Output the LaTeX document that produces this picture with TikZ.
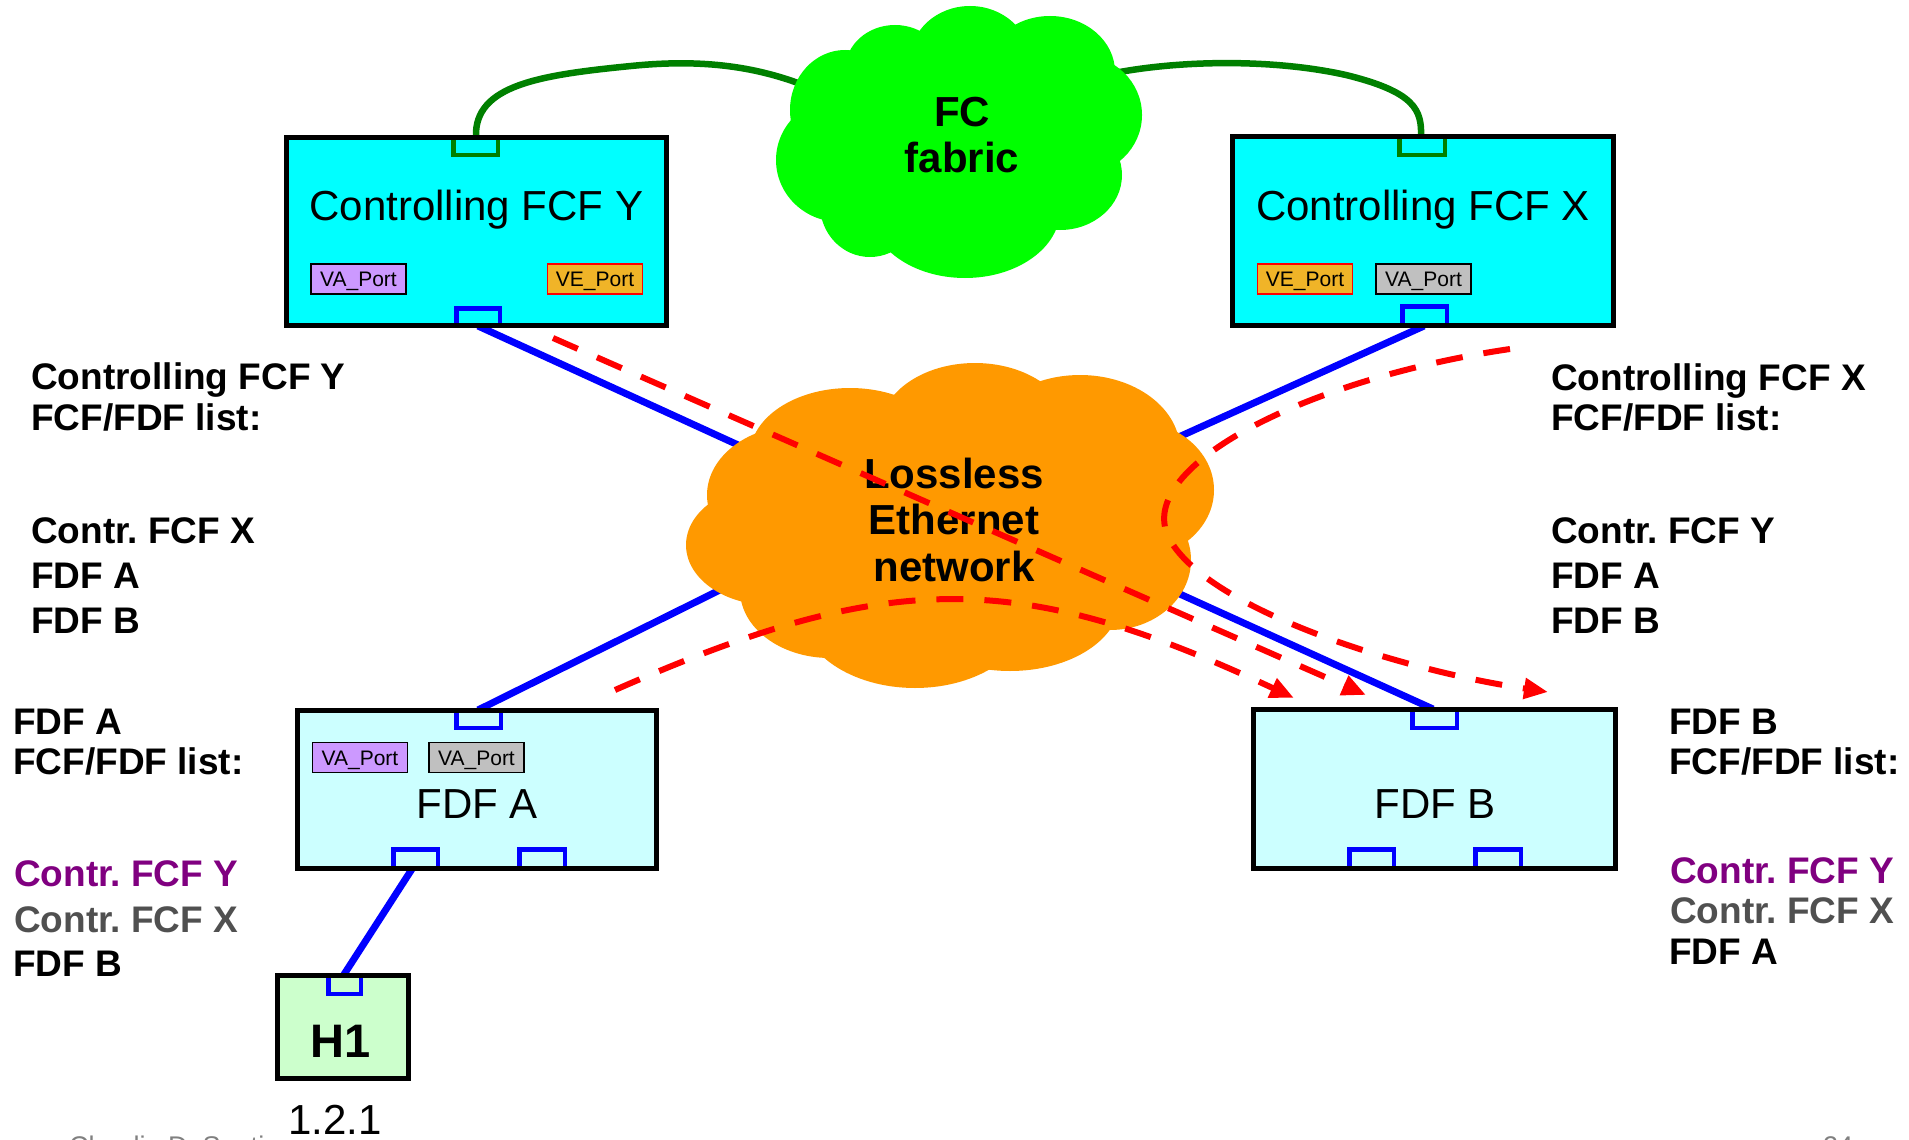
\documentclass[tikz,border=0pt]{standalone}
\usepackage{fontspec}
\setmainfont{Liberation Sans}
\usetikzlibrary{arrows.meta}
\frenchspacing
\definecolor{cyanbox}{HTML}{00FFFF}
\definecolor{fdfbox}{HTML}{CCFFFF}
\definecolor{hostbox}{HTML}{CCFFCC}
\definecolor{fcgreen}{HTML}{00FF00}
\definecolor{lanorange}{HTML}{FF9900}
\definecolor{linkgreen}{HTML}{008000}
\definecolor{vapurple}{HTML}{CC99FF}
\definecolor{vagray}{HTML}{C0C0C0}
\definecolor{veorange}{HTML}{F0B428}
\definecolor{txtpurple}{HTML}{800080}
\definecolor{txtgray}{HTML}{505050}
\definecolor{footgray}{HTML}{808080}
\begin{document}
\frenchspacing
\begin{tikzpicture}[x=1pt,y=-1pt,
  box/.style={draw=black, line width=5pt, rectangle, inner sep=0pt},
  boxtext/.style={anchor=base, inner sep=0pt, font=\fontsize{42}{50}\selectfont},
  cloudtext/.style={anchor=base, inner sep=0pt, font=\fontsize{42}{50}\selectfont\bfseries},
  porttag/.style={line width=1.8pt, minimum width=95pt, minimum height=30pt, inner sep=0pt,
    text height=15pt, text depth=0pt, font=\fontsize{21}{25}\selectfont},
  vatag/.style={porttag, draw=black, fill=vapurple},
  vgtag/.style={porttag, draw=black, fill=vagray},
  vetag/.style={porttag, draw=red, fill=veorange},
  bport/.style={draw=blue, line width=4.5pt, line join=miter},
  gport/.style={draw=linkgreen, line width=4.5pt, line join=miter},
  blink/.style={draw=blue, line width=7pt},
  glink/.style={draw=linkgreen, line width=6.5pt},
  flow/.style={draw=red, line width=6pt, dash pattern=on 27pt off 21pt,
    -{Triangle[length=24pt,width=20pt]}},
  sidelbl/.style={anchor=base west, inner sep=0pt, font=\fontsize{37}{44}\selectfont\bfseries},
  foot/.style={anchor=north west, inner sep=0pt, text=footgray, font=\fontsize{27}{32}\selectfont}
]
\useasboundingbox (0,0) rectangle (1909,1140);
\clip (0,0) rectangle (1909,1140);

% ---------- coordinates ----------
\coordinate (Yb) at (478,326);
\coordinate (Xb) at (1424,326);
\coordinate (Ab) at (478,710);
\coordinate (Bb) at (1433,709);
\coordinate (lanYin) at (760,455);
\coordinate (lanXin) at (1150,450);
\coordinate (lanAin) at (740,580);
\coordinate (lanBin) at (1160,585);
\coordinate (Yg) at (476,137);
\coordinate (Xg) at (1421,137);
\coordinate (fcL) at (820,92);
\coordinate (fcR) at (1100,76);
\coordinate (Adown) at (412,869);
\coordinate (Hup) at (343,976);

% ---------- blue links (under clouds) ----------
\draw[blink] (Yb) -- (lanYin);
\draw[blink] (Xb) -- (lanXin);
\draw[blink] (Ab) -- (lanAin);
\draw[blink] (Bb) -- (lanBin);
\draw[blink] (Adown) -- (Hup);

% ---------- green links ----------
\draw[glink] (Yg) .. controls (474,85) and (540,75) .. (631,66)
  .. controls (700,59) and (760,65) .. (fcL);
\draw[glink] (fcR) .. controls (1170,60) and (1270,58) .. (1346,75)
  .. controls (1415,92) and (1422,110) .. (Xg);

% ---------- FC fabric cloud ----------
\foreach \cx/\cy/\rx/\ry in {895/70/50/45, 970/60/60/54, 1050/72/65/56, 1080/115/62/60,
  1060/175/62/55, 965/210/95/68, 870/205/50/52, 840/160/64/62, 845/110/55/60, 960/145/130/100}
  \fill[fcgreen] (\cx,\cy) ellipse [x radius=\rx pt, y radius=\ry pt];
\coordinate (fabric) at (960,145);
\node[cloudtext] (fctxt1) at (962,126) {FC};
\node[cloudtext] (fctxt2) at (962,172) {fabric};

% ---------- Lossless Ethernet cloud ----------
\foreach \cx/\cy/\rx/\ry in {800/495/93/70, 850/455/100/67, 975/430/95/67, 1080/450/100/75,
  1130/490/84/70, 1110/560/81/70, 1010/600/110/71, 915/610/115/78, 830/590/90/68,
  770/545/84/60, 950/520/200/110}
  \fill[lanorange] (\cx,\cy) ellipse [x radius=\rx pt, y radius=\ry pt];
\coordinate (lan) at (950,520);
\node[cloudtext] (lantxt1) at (954,488) {Lossless};
\node[cloudtext] (lantxt2) at (954,534) {Ethernet};
\node[cloudtext] (lantxt3) at (954,581) {network};

% ---------- boxes ----------
\node[box, fill=cyanbox, minimum width=380pt, minimum height=188pt] (fcfY) at (476.5,231.5) {};
\node[boxtext] (fcfYt) at (476.5,220) {Controlling FCF Y};
\node[vatag] (fcfYva) at (358.5,279) {VA\_Port};
\node[vetag] (fcfYve) at (595,279) {VE\_Port};

\node[box, fill=cyanbox, minimum width=381pt, minimum height=189pt] (fcfX) at (1423,231) {};
\node[boxtext] (fcfXt) at (1423,220) {Controlling FCF X};
\node[vetag] (fcfXve) at (1305,279) {VE\_Port};
\node[vgtag] (fcfXva) at (1423.5,279) {VA\_Port};

\node[box, fill=fdfbox, minimum width=359pt, minimum height=158pt] (fdfA) at (477,789.5) {};
\node[boxtext] (fdfAt) at (477,818) {FDF A};
\node[vatag] (fdfAva1) at (360,757.5) {VA\_Port};
\node[vgtag] (fdfAva2) at (476.5,757.5) {VA\_Port};

\node[box, fill=fdfbox, minimum width=362pt, minimum height=159pt] (fdfB) at (1434.5,789) {};
\node[boxtext] (fdfBt) at (1435,818) {FDF B};

\node[box, fill=hostbox, minimum width=131pt, minimum height=103pt] (H1) at (343,1027) {};
\node[anchor=base, inner sep=0pt, font=\fontsize{47}{56}\selectfont\bfseries] (H1t) at (341,1057) {H1};
\node[boxtext] (H1addr) at (335,1134) {1.2.1};

% ---------- ports ----------
\draw[gport] (453.25,140) -- (453.25,154.75) -- (497.75,154.75) -- (497.75,140);
\draw[gport] (1399.25,139) -- (1399.25,154.75) -- (1444.75,154.75) -- (1444.75,139);
\draw[bport] (456.25,323) -- (456.25,308.25) -- (499.75,308.25) -- (499.75,323);
\draw[bport] (1402.25,323) -- (1402.25,306.25) -- (1446.75,306.25) -- (1446.75,323);
\draw[bport] (456.25,713) -- (456.25,727.75) -- (500.75,727.75) -- (500.75,713);
\draw[bport] (393.25,866) -- (393.25,849.25) -- (437.75,849.25) -- (437.75,866);
\draw[bport] (519.25,866) -- (519.25,849.25) -- (564.75,849.25) -- (564.75,866);
\draw[bport] (1412.25,712) -- (1412.25,727.75) -- (1456.75,727.75) -- (1456.75,712);
\draw[bport] (1349.25,866) -- (1349.25,849.25) -- (1393.75,849.25) -- (1393.75,866);
\draw[bport] (1475.25,866) -- (1475.25,849.25) -- (1520.75,849.25) -- (1520.75,866);
\draw[bport] (328.25,978) -- (328.25,993.75) -- (360.75,993.75) -- (360.75,978);

% ---------- red flows ----------
\coordinate (fYs) at (553,338);
\coordinate (fYe) at (1366,695);
\coordinate (fAs) at (615,690);
\coordinate (fAe) at (1294,698);
\coordinate (fXs) at (1510,349);
\coordinate (fXe) at (1548,692);
\draw[flow] (fYs) -- (fYe);
\draw[flow] (fAs) .. controls (890,569) and (1018,569) .. (fAe);
\draw[flow] (fXs) .. controls (1300,380) and (1130,470) .. (1170,540)
  .. controls (1210,610) and (1400,670) .. (fXe);

% ---------- side lists ----------
\node[sidelbl] (lY1) at (31,389) {Controlling FCF Y};
\node[sidelbl] (lY2) at (31,430) {FCF/FDF list:};
\node[sidelbl] (lY3) at (31,543) {Contr. FCF X};
\node[sidelbl] (lY4) at (31,588) {FDF A};
\node[sidelbl] (lY5) at (31,633) {FDF B};

\node[sidelbl] (lX1) at (1551,390) {Controlling FCF X};
\node[sidelbl] (lX2) at (1551,430) {FCF/FDF list:};
\node[sidelbl] (lX3) at (1551,543) {Contr. FCF Y};
\node[sidelbl] (lX4) at (1551,588) {FDF A};
\node[sidelbl] (lX5) at (1551,633) {FDF B};

\node[sidelbl] (lA1) at (13,734) {FDF A};
\node[sidelbl] (lA2) at (13,774) {FCF/FDF list:};
\node[sidelbl, text=txtpurple] (lA3) at (14,886) {Contr. FCF Y};
\node[sidelbl, text=txtgray] (lA4) at (14,932) {Contr. FCF X};
\node[sidelbl] (lA5) at (13,976) {FDF B};

\node[sidelbl] (lB1) at (1669,734) {FDF B};
\node[sidelbl] (lB2) at (1669,774) {FCF/FDF list:};
\node[sidelbl, text=txtpurple] (lB3) at (1670,883) {Contr. FCF Y};
\node[sidelbl, text=txtgray] (lB4) at (1670,923) {Contr. FCF X};
\node[sidelbl] (lB5) at (1669,964) {FDF A};

% ---------- footer (cut by the frame, as in the reference) ----------
\node[foot] (author) at (69,1136) {Claudio DeSanti};
\node[foot] (pagenum) at (1823,1136) {24};
\end{tikzpicture}
\end{document}
